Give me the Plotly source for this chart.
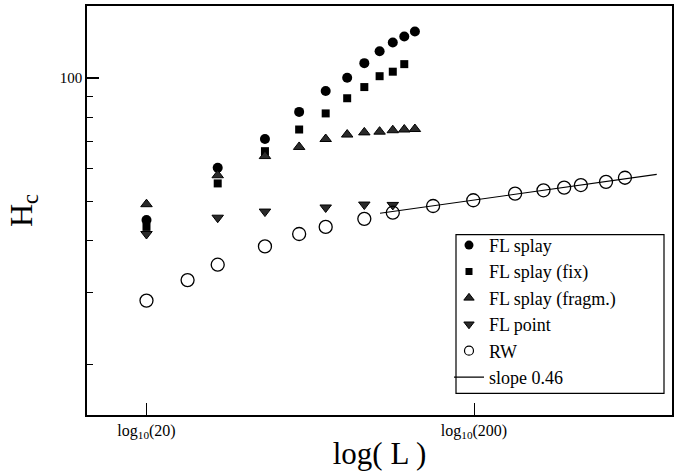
import plotly.graph_objects as go

# ---- data ----
L_splay = [20, 33, 46, 58.5, 70.5, 82, 92.5, 103, 113, 122.5, 132]
H_splay = [45.0, 60.4, 71.0, 82.7, 93.0, 100.2, 108.8, 116.3, 122.2, 126.4, 130.0]

L_fix = [20, 33, 46, 58.5, 70.5, 82, 92.5, 103, 113, 122.5]
H_fix = [43.3, 55.3, 66.3, 74.9, 82.0, 89.3, 95.1, 101.1, 103.7, 108.2]

L_fragm = [20, 33, 46, 58.5, 70.5, 82, 92.5, 103, 113, 122.5, 132]
H_fragm = [49.2, 57.9, 64.5, 67.9, 71.0, 72.8, 73.7, 74.0, 74.6, 74.9, 75.1]

L_point = [20, 33, 46, 70.5, 92.5, 113]
H_point = [41.6, 45.6, 47.2, 48.3, 49.1, 49.0]

L_rw = [20, 26.7, 33, 46, 58.5, 70.5, 92.5, 113, 150, 199, 267, 326, 377, 424, 506, 578]
H_rw = [28.6, 32.1, 35.0, 38.8, 41.6, 43.3, 45.3, 46.9, 48.7, 50.3, 52.2, 53.2, 54.0, 54.8, 55.8, 57.1]

L_fit = [103.3, 722.8]
H_fit = [46.75, 58.2]

series_names = ["FL splay", "FL splay (fix)", "FL splay (fragm.)", "FL point", "RW", "slope 0.46"]

x_tickvals = [20, 200]
x_ticktext = ["log<sub>10</sub>(20)", "log<sub>10</sub>(200)"]
y_tickvals = [100]
y_ticktext = ["100"]
y_minor = [20, 30, 40, 50, 60, 70, 80, 90]

FONT = "Liberation Serif, Times New Roman, serif"
TRI_FILL = "#2a2a2a"

data_markers = [
    (L_splay, H_splay, dict(symbol="circle", size=10, color="black")),
    (L_fix, H_fix, dict(symbol="square", size=8, color="black")),
    (L_fragm, H_fragm, dict(symbol="triangle-up", size=10, color=TRI_FILL, line=dict(color="black", width=1))),
    (L_point, H_point, dict(symbol="triangle-down", size=10, color=TRI_FILL, line=dict(color="black", width=1))),
    (L_rw, H_rw, dict(symbol="circle-open", size=13, color="black", line=dict(color="black", width=1.3))),
]
legend_markers = [
    dict(symbol="circle", size=9, color="black"),
    dict(symbol="square", size=7, color="black"),
    dict(symbol="triangle-up", size=9, color=TRI_FILL, line=dict(color="black", width=1)),
    dict(symbol="triangle-down", size=9, color=TRI_FILL, line=dict(color="black", width=1)),
    dict(symbol="circle-open", size=9, color="black", line=dict(color="black", width=1.2)),
]

fig = go.Figure()
for i, (xs, ys, mk) in enumerate(data_markers):
    fig.add_trace(go.Scatter(x=xs, y=ys, mode="markers", name=series_names[i],
                             marker=mk, showlegend=False, legendgroup=series_names[i]))
fig.add_trace(go.Scatter(x=L_fit, y=H_fit, mode="lines", name=series_names[5],
                         line=dict(color="black", width=1.2), showlegend=False))

# legend entries (small symbols, as in the reference legend)
for i, mk in enumerate(legend_markers):
    fig.add_trace(go.Scatter(x=[None], y=[None], mode="markers", name=series_names[i],
                             marker=mk, legendgroup=series_names[i]))
fig.add_trace(go.Scatter(x=[None], y=[None], mode="lines", name=series_names[5],
                         line=dict(color="black", width=1.2)))

fig.update_layout(
    width=683, height=474,
    margin=dict(l=87, r=11, t=4, b=59),
    paper_bgcolor="white", plot_bgcolor="white",
    font=dict(family=FONT, color="black"),
    showlegend=True,
    legend=dict(x=0.6188, y=0.460, xanchor="left", yanchor="top",
                bgcolor="rgba(0,0,0,0)", borderwidth=0,
                font=dict(family=FONT, size=18, color="black"),
                itemwidth=30, tracegroupgap=0),
    shapes=[dict(type="rect", xref="paper", yref="paper",
                 x0=(456 - 87) / 585, x1=(664 - 87) / 585,
                 y0=(414.7 - 393) / 410.7, y1=(414.7 - 233.5) / 410.7,
                 line=dict(color="black", width=1.2), fillcolor="rgba(0,0,0,0)")],
)

fig.update_xaxes(
    type="log", range=[1.1194, 2.9056],
    tickmode="array", tickvals=x_tickvals, ticktext=x_ticktext,
    ticks="inside", ticklen=12, tickwidth=1, tickcolor="black",
    showgrid=False, zeroline=False,
    showline=True, linecolor="black", linewidth=1.6, mirror=True,
    tickfont=dict(family=FONT, size=16, color="black"),
    title=dict(text="log( L )", font=dict(family=FONT, size=31, color="black"), standoff=2),
)
fig.update_yaxes(
    type="log", range=[1.1768, 2.1763],
    tickmode="array", tickvals=y_tickvals, ticktext=y_ticktext,
    ticks="inside", ticklen=12, tickwidth=1.5, tickcolor="black",
    minor=dict(tickmode="array", tickvals=y_minor, ticks="inside", ticklen=6,
               tickwidth=1.2, tickcolor="black", showgrid=False),
    showgrid=False, zeroline=False,
    showline=True, linecolor="black", linewidth=1.6, mirror=True,
    tickfont=dict(family=FONT, size=15, color="black"),
    title=dict(text="H<sub>c</sub>", font=dict(family=FONT, size=32, color="black"), standoff=18),
)

fig.write_html("out.html")
